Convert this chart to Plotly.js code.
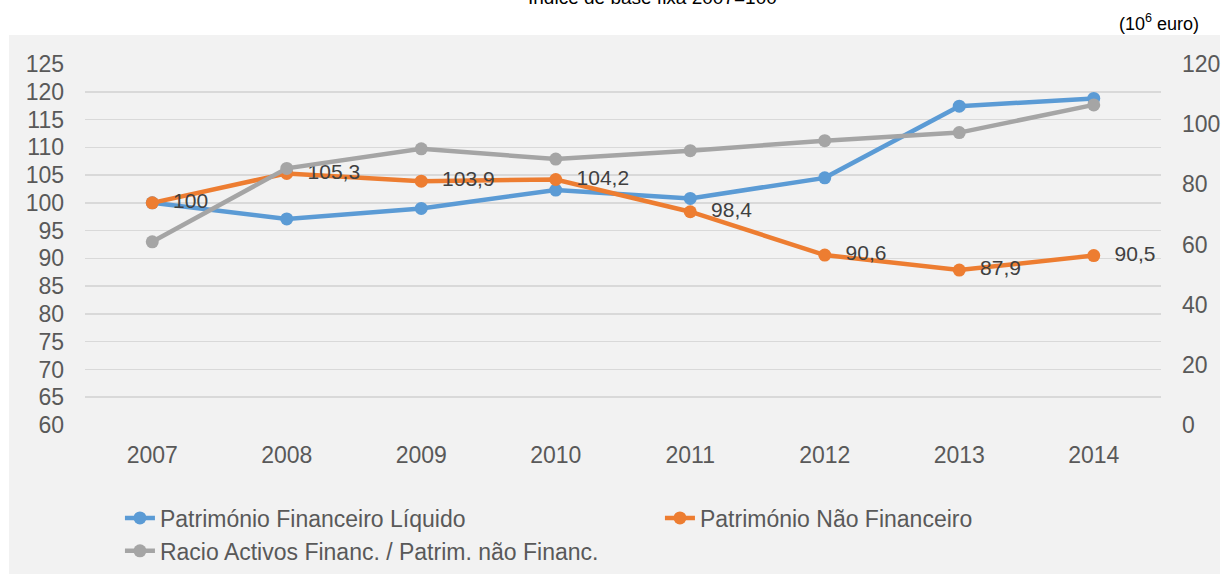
<!DOCTYPE html>
<html>
<head>
<meta charset="utf-8">
<script src="https://cdn.plot.ly/plotly-3.0.1.min.js"></script>
<style>html,body{margin:0;padding:0;background:#fff;}#chart{width:1224px;height:574px;}</style>
</head>
<body>
<div id="chart"></div>
<script>
const years = ['2007','2008','2009','2010','2011','2012','2013','2014'];
const financeiroLiquido = [100, 97.1, 99.0, 102.3, 100.8, 104.5, 117.4, 118.8];
const naoFinanceiro = [100, 105.3, 103.9, 104.2, 98.4, 90.6, 87.9, 90.5];
const racioActivos = [60.9, 85.3, 91.8, 88.4, 91.2, 94.5, 97.2, 106.4];
const leftTicks = [60,65,70,75,80,85,90,95,100,105,110,115,120,125];
const rightTicks = [0,20,40,60,80,100,120];
const seriesNames = ['Património Financeiro Líquido','Património Não Financeiro','Racio Activos Financ. / Patrim. não Financ.'];
const titleText = 'Índice de base fixa 2007=100';
const unitText = '(10<sup>6</sup> euro)';

const labelText = naoFinanceiro.map(v => '\u00a0\u00a0' + String(v).replace('.', ','));
const FONT = 'Liberation Sans, Arial, sans-serif';

const traces = [
  {x: years, y: financeiroLiquido, name: seriesNames[0], type: 'scatter', mode: 'lines+markers',
   line: {color: '#5b9bd5', width: 4.5}, marker: {color: '#5b9bd5', size: 13}, yaxis: 'y', hoverinfo: 'skip'},
  {x: years, y: naoFinanceiro, name: seriesNames[1], type: 'scatter', mode: 'lines+markers+text',
   text: labelText, textposition: 'middle right', textfont: {family: FONT, size: 21, color: '#404040'},
   line: {color: '#ed7d31', width: 4.5}, marker: {color: '#ed7d31', size: 13}, yaxis: 'y', hoverinfo: 'skip'},
  {x: years, y: racioActivos, name: seriesNames[2], type: 'scatter', mode: 'lines+markers',
   line: {color: '#a5a5a5', width: 4.5}, marker: {color: '#a5a5a5', size: 13}, yaxis: 'y2', hoverinfo: 'skip'}
];

const layout = {
  width: 1224, height: 574,
  paper_bgcolor: '#ffffff', plot_bgcolor: 'rgba(0,0,0,0)',
  margin: {l: 85, r: 63, t: 64, b: 149, autoexpand: false},
  font: {family: FONT, color: '#595959'},
  showlegend: true,
  title: {text: titleText, font: {family: FONT, size: 19, color: '#000000'},
          x: 0.533, xanchor: 'center', xref: 'container', y: 0.993, yref: 'container', yanchor: 'bottom'},
  xaxis: {type: 'category', range: [-0.5, 7.5], showgrid: false, zeroline: false, showline: false,
          ticks: '', tickfont: {family: FONT, size: 23, color: '#595959'}, ticklabelstandoff: 14, fixedrange: true},
  yaxis: {range: [60, 125], tickvals: leftTicks, ticktext: leftTicks.map(String), showgrid: true,
          gridcolor: '#d9d9d9', gridwidth: 1.5, zeroline: false, showline: false, ticks: '',
          tickfont: {family: FONT, size: 23, color: '#595959'}, ticklabelstandoff: 20, fixedrange: true},
  yaxis2: {range: [0, 120], tickvals: rightTicks, ticktext: rightTicks.map(String), overlaying: 'y', side: 'right',
           showgrid: false, zeroline: false, showline: false, ticks: '',
           tickfont: {family: FONT, size: 23, color: '#595959'}, ticklabelstandoff: 20, fixedrange: true},
  legend: {orientation: 'h', xref: 'container', yref: 'container', x: 0.098, y: 0.135, xanchor: 'left', yanchor: 'top',
           font: {family: FONT, size: 23, color: '#595959'}, bgcolor: 'rgba(0,0,0,0)',
           entrywidth: 495, entrywidthmode: 'pixels', traceorder: 'normal', tracegroupgap: 0},
  shapes: [{type: 'rect', xref: 'paper', yref: 'paper', layer: 'below',
            x0: (9 - 85) / 1076, x1: (1220 - 85) / 1076, y0: (425 - 574) / 361, y1: (425 - 35) / 361,
            fillcolor: '#f2f2f2', line: {width: 0}}],
  annotations: [{text: unitText, xref: 'paper', yref: 'paper', x: (1201 - 85) / 1076, y: (425 - 22) / 361,
                 xanchor: 'right', yanchor: 'middle', showarrow: false,
                 font: {family: FONT, size: 18, color: '#000000'}}]
};

Plotly.newPlot('chart', traces, layout, {displayModeBar: false, staticPlot: true});
</script>
</body>
</html>
